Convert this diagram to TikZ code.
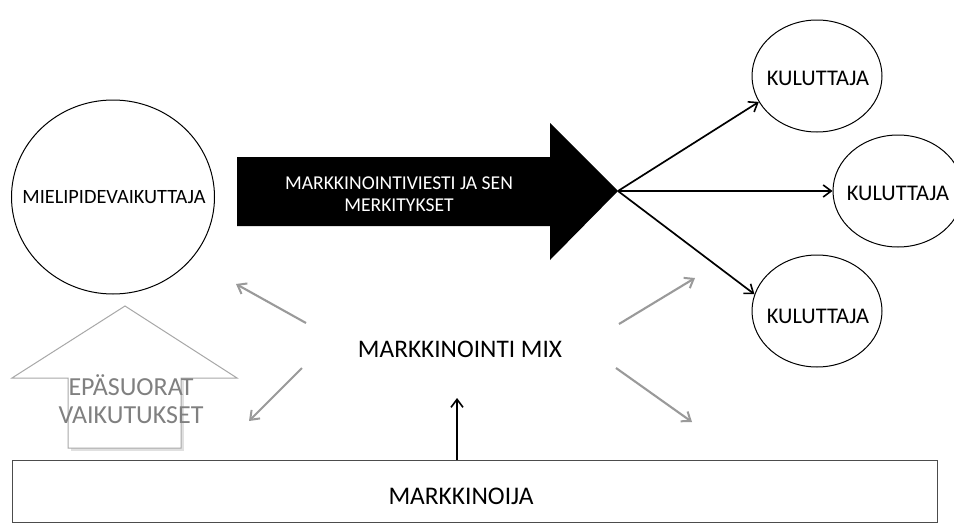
\documentclass[tikz,border=0pt]{standalone}
\usepackage{fontspec}
\setmainfont{Carlito}
\usetikzlibrary{shapes.geometric,arrows.meta}
\definecolor{softgray}{HTML}{9A9A9A}
\definecolor{outlinegray}{HTML}{A8A8A8}
\definecolor{labelgray}{HTML}{808080}
\tikzset{
  person/.style={ellipse,draw=black,line width=1pt,fill=white,inner sep=0pt,
    minimum width=130pt,minimum height=112pt},
  personlabel/.style={inner sep=0pt,font=\fontsize{22.4}{24}\selectfont},
  flow/.style={-{Straight Barb[length=8pt,width=12pt,line width=1.6pt]},line width=1.7pt,black},
  side/.style={-{Straight Barb[length=8pt,width=12pt,line width=2pt]},line width=2.1pt,softgray},
  label/.style={inner sep=0pt,align=center}
}
\begin{document}
\begin{tikzpicture}[x=1pt,y=-1pt]
\useasboundingbox (0,0) rectangle (954,525);
\fill[white] (0,0) rectangle (954,525);

% opinion leader
\node[ellipse,draw=black,line width=1pt,inner sep=0pt,minimum width=203pt,minimum height=194pt] (leader) at (113,197) {};
\node[label,font=\fontsize{20.3}{22}\selectfont] (leadertext) at (114,197) {MIELIPIDEVAIKUTTAJA};

% marketing message arrow
\fill[black] (237,157) -- (550,157) -- (550,123) -- (618,191) -- (550,260) -- (550,226) -- (237,226) -- cycle;
\coordinate (tip) at (618,191);
\node[label,text=white,font=\fontsize{19.6}{22}\selectfont] (message) at (399,194)
  {MARKKINOINTIVIESTI JA SEN\\MERKITYKSET};

% consumers
\node[person] (k1) at (817,76) {};
\node[person] (k2) at (898,191) {};
\node[person] (k3) at (817,311) {};
\node[personlabel] (k1text) at (818,78) {KULUTTAJA};
\node[personlabel] (k2text) at (898,193) {KULUTTAJA};
\node[personlabel] (k3text) at (818,316) {KULUTTAJA};
\draw[flow] (tip) -- (k1.204);
\draw[flow] (tip) -- (k2);
\draw[flow] (tip) -- (k3.165);

% marketing mix and its effects
\node[label,font=\fontsize{25.3}{28}\selectfont] (mix) at (460,349) {MARKKINOINTI MIX};
\coordinate (ulA) at (306,323); \coordinate (ulB) at (236,284);
\coordinate (llA) at (302,368); \coordinate (llB) at (249,421);
\coordinate (urA) at (619,324); \coordinate (urB) at (695,278);
\coordinate (lrA) at (616,368); \coordinate (lrB) at (692,422);
\draw[side] (ulA) -- (ulB);
\draw[side] (llA) -- (llB);
\draw[side] (urA) -- (urB);
\draw[side] (lrA) -- (lrB);

% indirect effects
\fill[black!12] (71,451) -- (184,451) -- (184,381) -- (71,381) -- cycle;
\draw[outlinegray,fill=white,line width=1pt,line join=miter]
  (68,448) -- (68,378) -- (12,378) -- (125,306) -- (237,378) -- (181,378) -- (181,448) -- cycle;
\node[label,text=labelgray,font=\fontsize{26}{28}\selectfont] (indirect) at (131,399)
  {EPÄSUORAT\\VAIKUTUKSET};

% marketer
\node[draw=black!70,line width=1pt,minimum width=925pt,minimum height=62pt,inner sep=0pt] (marketer) at (474.5,491) {};
\node[label,font=\fontsize{25.4}{28}\selectfont] (marketertext) at (461,496) {MARKKINOIJA};
\coordinate (up) at (457,460);
\draw[flow] (up) -- (up |- 0,398);
\end{tikzpicture}
\end{document}
